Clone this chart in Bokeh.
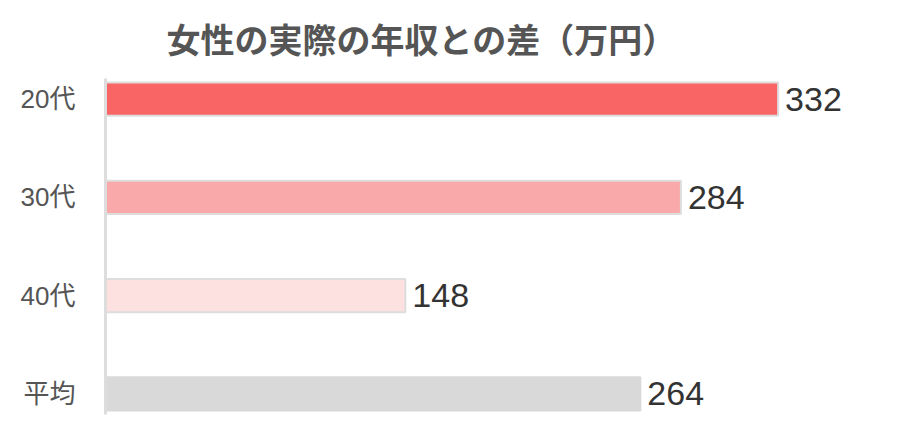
from bokeh.core.properties import value
from bokeh.embed import file_html
from bokeh.models import ColumnDataSource, FactorRange, Range1d, Title
from bokeh.plotting import figure
from bokeh.resources import INLINE

# data, top to bottom as in the chart
categories = ["20代", "30代", "40代", "平均"]
diffs = [332, 284, 148, 264]
colors = ["#f96565", "#f9a9a9", "#fde0e0", "#d9d9d9"]
edges = ["#dddddd", "#dddddd", "#dddddd", "#d9d9d9"]
title_text = "女性の実際の年収との差（万円）"

FONT = "'Liberation Sans', 'Noto Sans CJK JP'"

source = ColumnDataSource(dict(
    cat=categories,
    diff=diffs,
    color=colors,
    edge=edges,
    label=[str(d) for d in diffs],
))

p = figure(
    width=885, height=420,
    y_range=FactorRange(factors=categories[::-1], range_padding=-0.29,
                        range_padding_units="absolute"),
    x_range=Range1d(0, 385),
    output_backend="svg", toolbar_location=None,
    min_border_left=105, min_border_right=0,
    min_border_top=0, min_border_bottom=6,
)
p.title = Title(text=title_text, align="left", offset=61, standoff=38,
                text_font_size="34px", text_font_style="bold",
                text_color="#555555", text_font=FONT)

p.hbar(y="cat", right="diff", left=0, height=0.34, source=source,
       fill_color="color", line_color="edge", line_width=2)

p.text(x="diff", y="cat", text="label", source=source, x_offset=7,
       text_baseline="middle", text_align="left", text_color="#333333",
       text_font_size="34px", text_font=value("Liberation Sans"))

p.xaxis.visible = False
p.xgrid.visible = False
p.ygrid.visible = False
p.outline_line_color = None

ax = p.yaxis[0]
ax.axis_line_color = "#dddddd"
ax.axis_line_width = 3
ax.major_tick_line_color = None
ax.minor_tick_line_color = None
ax.major_tick_out = 0
ax.major_label_standoff = 30
ax.major_label_text_font_size = "26px"
ax.major_label_text_color = "#555555"
ax.major_label_text_font = FONT

open("out.html", "w").write(file_html(p, INLINE))
